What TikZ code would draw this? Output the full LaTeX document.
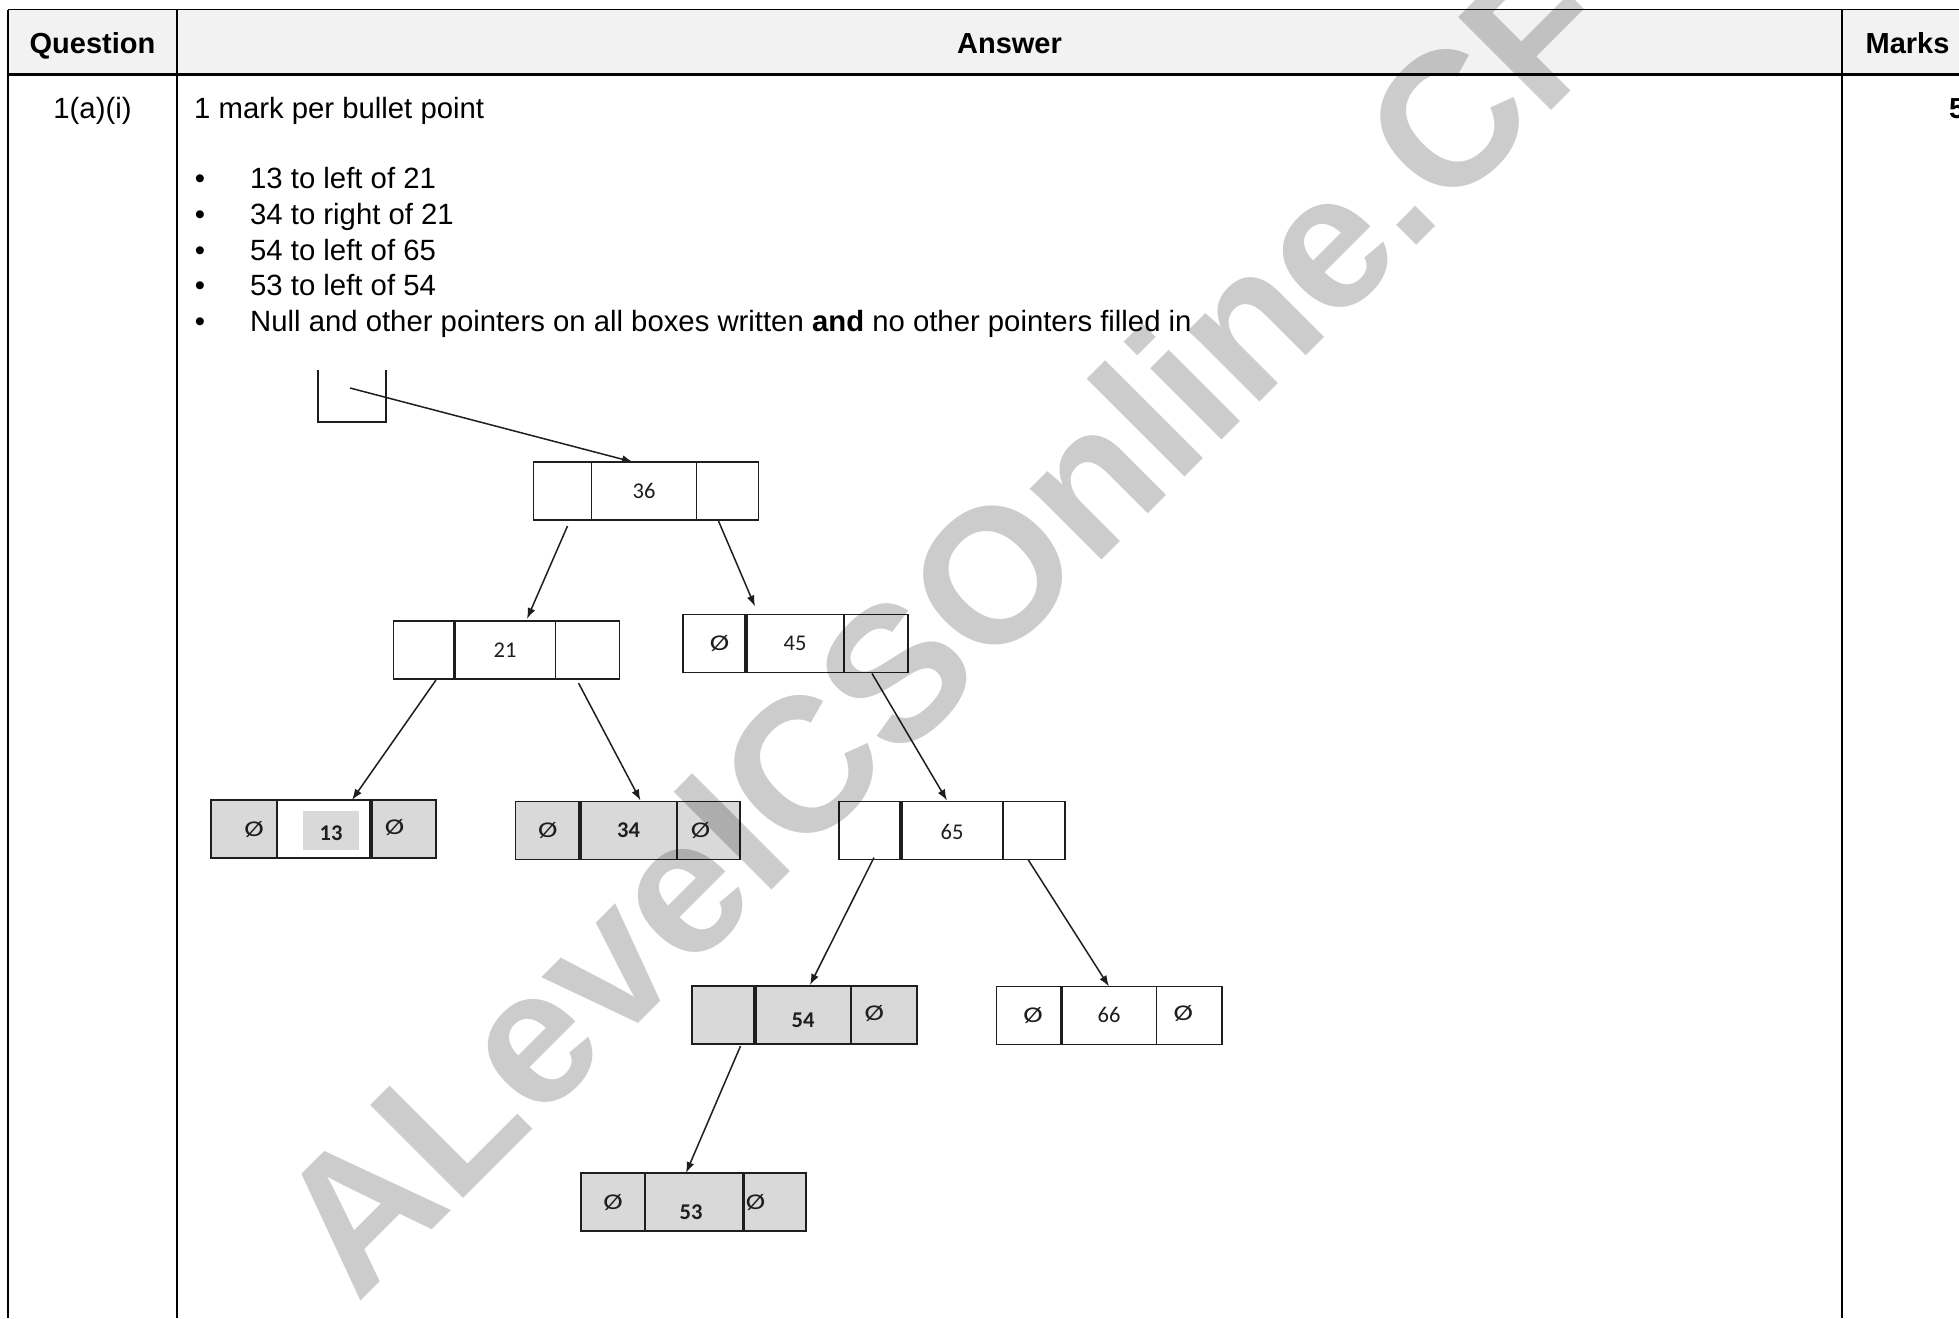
\documentclass[tikz,border=0pt]{standalone}
\usepackage{fontspec}
\usepackage{xcolor}
\setmainfont{Liberation Sans}
\newfontfamily\cellfont{Carlito}
\usetikzlibrary{positioning,arrows.meta}
\definecolor{headGray}{HTML}{F2F2F2}
\definecolor{cellGray}{HTML}{D9D9D9}
\definecolor{inkGray}{HTML}{1E1E1E}
\newcommand{\nudge}[3]{\hspace*{#1}\raisebox{#2}{#3}\hspace*{-#1}}
\newcommand{\nullptr}{\scalebox{1.3}[1]{Ø}}

\begin{document}
\begin{tikzpicture}[x=1pt, y=-1pt,
    cell/.style={draw=inkGray, line width=1.7pt, inner sep=0pt, outer sep=0pt, minimum height=58pt,
        text height=14pt, text depth=0pt, text=inkGray, font=\cellfont\fontsize{22.5}{26}\selectfont},
    shaded/.style={fill=cellGray},
    bar/.style={draw=inkGray, line width=3.5pt},
    ptr/.style={draw=inkGray, line width=1.5pt, -{Latex[length=11pt,width=8pt]}},
    gridline/.style={line width=1.5pt},
    txt/.style={anchor=base west, inner sep=0pt, font=\fontsize{29.3}{35}\selectfont},
    head/.style={txt, anchor=base, font=\bfseries\fontsize{29}{35}\selectfont},
]
\useasboundingbox (0,0) rectangle (1959,1318);
\clip (0,0) rectangle (1959,1318);

% table frame
\fill[headGray] (8,9.5) rectangle (1959,74);
\draw[gridline] (8,9.5) -- (1959,9.5);
\draw[line width=3pt] (8,74) -- (1959,74);
\draw[gridline] (8,9.5) -- (8,1318);
\draw[gridline] (177,9.5) -- (177,1318);
\draw[gridline] (1842,9.5) -- (1842,1318);

\node[head] (hq) at (92.5,53) {Question};
\node[head] (ha) at (1009.5,53) {Answer};
\node[head] (hm) at (1907.5,53) {Marks};

\node[txt, anchor=base] (qno) at (92.5,118) {1(a)(i)};
\node[txt] (intro) at (194,118) {1 mark per bullet point};
\node[txt, font=\bfseries\fontsize{29}{35}\selectfont] (mk) at (1949,118) {5};

\node[txt, anchor=base] (b1) at (200,188) {\textbullet};
\node[txt, anchor=base] (b2) at (200,224) {\textbullet};
\node[txt, anchor=base] (b3) at (200,260) {\textbullet};
\node[txt, anchor=base] (b4) at (200,295.5) {\textbullet};
\node[txt, anchor=base] (b5) at (200,331.5) {\textbullet};
\node[txt] (t1) at (250,188) {13 to left of 21};
\node[txt] (t2) at (250,224) {34 to right of 21};
\node[txt] (t3) at (250,260) {54 to left of 65};
\node[txt] (t4) at (250,295.5) {53 to left of 54};
\node[txt] (t5) at (250,331.5) {Null and other pointers on all boxes written \textbf{and} no other pointers filled in};

% root pointer
\node[minimum width=68pt, minimum height=52pt, inner sep=0pt, outer sep=0pt] (root) at (352,396) {};
\draw[gridline, inkGray] (root.north west) -- (root.south west) -- (root.south east) -- (root.north east);
\coordinate (rootptr) at (350,388);

% tree boxes
\node[cell, minimum width=105pt] (n36) at (644,491) {36};
\node[cell, minimum width=58pt, left=0pt of n36] (n36l) {};
\node[cell, minimum width=62pt, right=0pt of n36] (n36r) {};

\node[cell, minimum width=101pt] (n21) at (505,650) {21};
\node[cell, minimum width=61pt, left=0pt of n21] (n21l) {};
\node[cell, minimum width=64pt, right=0pt of n21] (n21r) {};

\node[cell, minimum width=98pt] (n45) at (795,643.5) {45};
\node[cell, minimum width=63pt, left=0pt of n45] (n45l) {\nudge{5pt}{0pt}{\nullptr}};
\node[cell, minimum width=64pt, right=0pt of n45] (n45r) {};

\node[cell, minimum width=94pt] (n13) at (324,829) {\nudge{7pt}{0pt}{{\setlength{\fboxsep}{0pt}\colorbox{cellGray}{\makebox[56pt]{\rule[-14pt]{0pt}{39.3pt}\raisebox{-4pt}{\bfseries 13}}}}}};
\node[cell, shaded, minimum width=66pt, left=0pt of n13] (n13l) {\nudge{10pt}{0pt}{\nullptr}};
\node[cell, shaded, minimum width=65pt, right=0pt of n13] (n13r) {\nudge{-9pt}{2pt}{\nullptr}};

\node[cell, shaded, minimum width=97pt] (n34) at (628.5,830.5) {\bfseries 34};
\node[cell, shaded, minimum width=64.5pt, left=0pt of n34] (n34l) {\nullptr};
\node[cell, shaded, minimum width=63pt, right=0pt of n34] (n34r) {\nudge{-8pt}{0pt}{\nullptr}};

\node[cell, minimum width=102.5pt] (n65) at (952,830.5) {\nudge{0pt}{-2pt}{65}};
\node[cell, minimum width=61.5pt, left=0pt of n65] (n65l) {};
\node[cell, minimum width=61.5pt, right=0pt of n65] (n65r) {};

\node[cell, shaded, minimum width=96.5pt] (n54) at (803,1015) {\nudge{0pt}{-5pt}{\bfseries 54}};
\node[cell, shaded, minimum width=62.5pt, left=0pt of n54] (n54l) {};
\node[cell, shaded, minimum width=66pt, right=0pt of n54] (n54r) {\nudge{-10pt}{2pt}{\nullptr}};

\node[cell, minimum width=95pt] (n66) at (1109,1015.5) {66};
\node[cell, minimum width=65pt, left=0pt of n66] (n66l) {\nudge{4pt}{0pt}{\nullptr}};
\node[cell, minimum width=65.5pt, right=0pt of n66] (n66r) {\nudge{-6pt}{2pt}{\nullptr}};

\node[cell, shaded, minimum width=98.5pt] (n53) at (694,1202) {\nudge{-3pt}{-10pt}{\bfseries 53}};
\node[cell, shaded, minimum width=63.5pt, left=0pt of n53] (n53l) {\nullptr};
\node[cell, shaded, minimum width=62.5pt, right=0pt of n53] (n53r) {\nudge{-19pt}{0pt}{\nullptr}};

% heavier dividers
\draw[bar] (n21.north west) -- (n21.south west);
\draw[bar] (n45.north west) -- (n45.south west);
\draw[bar] (n13.north east) -- (n13.south east);
\draw[bar] (n34.north west) -- (n34.south west);
\draw[bar] (n65.north west) -- (n65.south west);
\draw[bar] (n54.north west) -- (n54.south west);
\draw[bar] (n66.north west) -- (n66.south west);
\draw[bar] (n53.north east) -- (n53.south east);

\path
    (rootptr) edge[ptr] ([xshift=-11pt]n36.north)
    ([xshift=5pt, yshift=-6pt]n36l.south) edge[ptr] ([xshift=22pt, yshift=2pt]n21.north)
    ([xshift=-9pt, yshift=-1pt]n36r.south) edge[ptr] ([xshift=-40pt, yshift=8pt]n45.north)
    ([xshift=12pt, yshift=-1pt]n21l.south) edge[ptr] ([xshift=28pt]n13.north)
    ([xshift=-9pt, yshift=-4pt]n21r.south) edge[ptr] ([xshift=12pt, yshift=1pt]n34.north)
    ([xshift=-4pt, yshift=-1pt]n45r.south) edge[ptr] ([xshift=-5pt, yshift=1pt]n65.north)
    ([xshift=4pt, yshift=2pt]n65l.south) edge[ptr] ([xshift=7pt, yshift=1pt]n54.north)
    ([xshift=-6pt]n65r.south) edge[ptr] (n66.north)
    ([xshift=17pt, yshift=-2pt]n54l.south) edge[ptr] ([xshift=-8pt]n53.north)
;

% watermark
\node[anchor=base west, inner sep=0pt, rotate=45, text=black, text opacity=0.2,
    font=\bfseries\fontsize{191}{191}\selectfont] (wm) at (357,1305) {ALevelCSOnline.CF};
\end{tikzpicture}
\end{document}
